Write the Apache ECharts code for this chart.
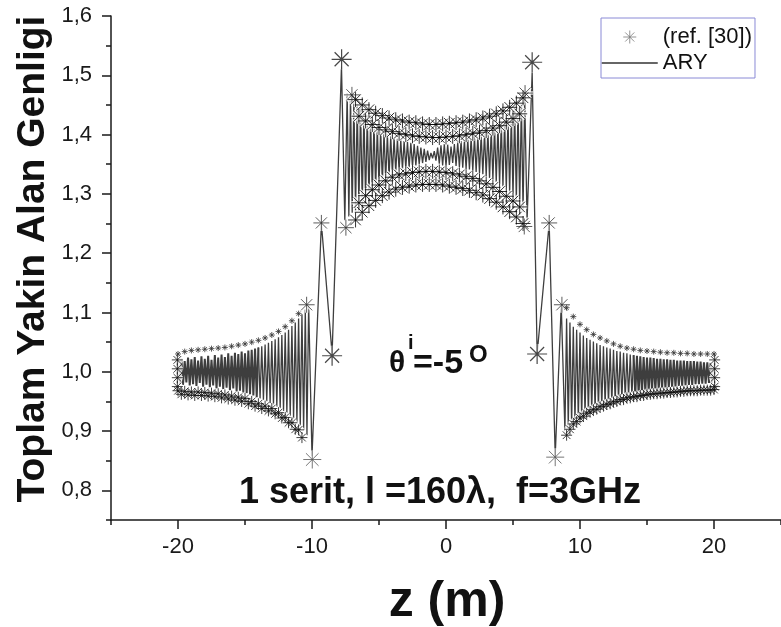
<!DOCTYPE html>
<html>
<head>
<meta charset="utf-8">
<script src="https://cdn.jsdelivr.net/npm/echarts@6/dist/echarts.min.js"></script>
<style>
  html, body { margin: 0; padding: 0; background: #fff; }
  #chart { width: 781px; height: 627px; }
</style>
</head>
<body>
<div id="chart"></div>
<script>
// ---- ARY solution: near-field amplitude along z (m) ----
// sampled runs: start z, step, values
const aryStep = 0.125;
const aryLeftStart = -20;
const aryLeftVals = [
  1.020, 0.980, 1.022, 0.978, 1.018, 0.982, 1.024, 0.977, 1.021, 0.979,
  1.025, 0.976, 1.019, 0.981, 1.026, 0.975, 1.022, 0.978, 1.027, 0.974,
  1.020, 0.977, 1.028, 0.972, 1.024, 0.975, 1.029, 0.971, 1.025, 0.973,
  1.031, 0.969, 1.027, 0.972, 1.032, 0.967, 1.030, 0.968, 1.034, 0.965,
  1.031, 0.964, 1.036, 0.962, 1.037, 0.960, 1.039, 0.957, 1.041, 0.955,
  1.043, 0.953, 1.046, 0.950, 1.049, 0.947, 1.052, 0.944, 1.055, 0.941,
  1.058, 0.938, 1.062, 0.934, 1.066, 0.930, 1.071, 0.926, 1.077, 0.921,
  1.083, 0.915, 1.090, 0.909, 1.097, 0.902, 1.105
];
const aryLeftEdgeZ = [-10.375, -10.25, -10.0, -9.3, -8.5, -7.8, -7.55];
const aryLeftEdgeVals = [0.893, 1.113, 0.858, 1.250, 1.030, 1.515, 1.255];
const aryCenterStart = -7.375;
const aryCenterVals = [
  1.470, 1.262, 1.466, 1.268, 1.460, 1.272, 1.452, 1.279, 1.446, 1.283,
  1.438, 1.289, 1.432, 1.293, 1.425, 1.300, 1.420, 1.306, 1.414, 1.313,
  1.409, 1.318, 1.404, 1.323, 1.401, 1.328, 1.397, 1.333, 1.395, 1.336,
  1.393, 1.339, 1.391, 1.341, 1.389, 1.343, 1.388, 1.344, 1.386, 1.346,
  1.384, 1.348, 1.381, 1.350, 1.378, 1.352, 1.376, 1.354, 1.373, 1.357,
  1.369, 1.360, 1.372, 1.356, 1.378, 1.351, 1.382, 1.348, 1.384, 1.347,
  1.383, 1.349, 1.380, 1.352, 1.384, 1.347, 1.387, 1.345, 1.389, 1.344,
  1.390, 1.342, 1.392, 1.341, 1.394, 1.339, 1.396, 1.337, 1.398, 1.335,
  1.400, 1.333, 1.403, 1.330, 1.406, 1.327, 1.409, 1.324, 1.412, 1.320,
  1.416, 1.316, 1.420, 1.312, 1.424, 1.307, 1.429, 1.301, 1.434, 1.295,
  1.440, 1.288, 1.446, 1.281, 1.453, 1.273, 1.462
];
const aryRightEdgeZ = [6.05, 6.43, 6.8, 7.7, 8.15, 8.6];
const aryRightEdgeVals = [1.255, 1.505, 1.030, 1.250, 0.858, 1.113];
const aryRightStart = 8.875;
const aryRightVals = [
  0.900, 1.090, 0.906, 1.083, 0.910, 1.076, 0.914, 1.071, 0.918, 1.066,
  0.922, 1.061, 0.926, 1.057, 0.929, 1.054, 0.932, 1.051, 0.935, 1.048,
  0.938, 1.045, 0.940, 1.043, 0.943, 1.041, 0.945, 1.039, 0.947, 1.037,
  0.949, 1.035, 0.951, 1.034, 0.953, 1.032, 0.955, 1.031, 0.957, 1.029,
  0.959, 1.028, 0.961, 1.027, 0.963, 1.026, 0.964, 1.025, 0.966, 1.024,
  0.967, 1.024, 0.968, 1.023, 0.969, 1.022, 0.970, 1.022, 0.971, 1.021,
  0.972, 1.021, 0.973, 1.020, 0.974, 1.020, 0.975, 1.019, 0.976, 1.019,
  0.976, 1.019, 0.977, 1.018, 0.978, 1.018, 0.978, 1.018, 0.979, 1.017,
  0.979, 1.017, 0.980, 1.016, 0.980, 1.016, 0.981, 1.015, 0.981, 1.015
];

// ---- ref. [30]: asterisk points ----
const refBandStep = 0.25;
const refCenterStart = -6.75;
const refCenterUpperVals = [
  1.459, 1.431, 1.450, 1.423, 1.442, 1.417, 1.436, 1.412, 1.432, 1.408,
  1.428, 1.405, 1.425, 1.402, 1.423, 1.400, 1.421, 1.398, 1.420, 1.397,
  1.418, 1.396, 1.417, 1.395, 1.417, 1.395, 1.418, 1.396, 1.419, 1.397,
  1.420, 1.398, 1.421, 1.400, 1.423, 1.402, 1.425, 1.404, 1.428, 1.407,
  1.431, 1.411, 1.435, 1.415, 1.440, 1.421, 1.446, 1.427, 1.453, 1.435,
  1.462
];
const refCenterLowerVals = [
  1.256, 1.285, 1.269, 1.297, 1.280, 1.307, 1.289, 1.315, 1.297, 1.322,
  1.303, 1.328, 1.308, 1.332, 1.311, 1.334, 1.313, 1.336, 1.315, 1.337,
  1.316, 1.338, 1.316, 1.338, 1.316, 1.337, 1.315, 1.336, 1.313, 1.334,
  1.311, 1.332, 1.309, 1.329, 1.306, 1.326, 1.302, 1.322, 1.298, 1.317,
  1.292, 1.311, 1.286, 1.304, 1.278, 1.296, 1.270, 1.288, 1.261, 1.278,
  1.250
];
const refLeftStart = -20;
const refLeftUpperStep = 0.5;
const refLeftUpperVals = [
  1.030, 1.034, 1.036, 1.037, 1.038, 1.039, 1.040, 1.041, 1.043, 1.045,
  1.047, 1.050, 1.053, 1.057, 1.062, 1.068, 1.076, 1.086, 1.098
];
const refLeftLowerVals = [
  0.968, 0.962, 0.967, 0.961, 0.966, 0.960, 0.966, 0.960, 0.965, 0.959,
  0.964, 0.958, 0.963, 0.956, 0.961, 0.954, 0.959, 0.952, 0.957, 0.950,
  0.955, 0.946, 0.950, 0.942, 0.946, 0.938, 0.942, 0.934, 0.938, 0.929,
  0.931, 0.922, 0.923, 0.914, 0.914, 0.903, 0.902, 0.889
];
const refRightStart = 9;
const refRightUpperStep = 0.5;
const refRightUpperVals = [
  1.108, 1.093, 1.080, 1.071, 1.063, 1.057, 1.052, 1.047, 1.043, 1.040,
  1.038, 1.036, 1.035, 1.034, 1.033, 1.032, 1.032, 1.031, 1.031, 1.030,
  1.030, 1.030, 1.030
];
const refRightLowerVals = [
  0.893, 0.903, 0.912, 0.916, 0.922, 0.925, 0.930, 0.932, 0.936, 0.937,
  0.941, 0.942, 0.945, 0.946, 0.949, 0.950, 0.953, 0.953, 0.956, 0.956,
  0.958, 0.958, 0.960, 0.960, 0.962, 0.962, 0.963, 0.963, 0.964, 0.964,
  0.965, 0.965, 0.966, 0.966, 0.967, 0.967, 0.968, 0.968, 0.968, 0.968,
  0.969, 0.969, 0.969, 0.969, 0.970
];
const refEndZ = [-20.05, -20.05, -20.05, -20.05, 20.05, 20.05, 20.05, 20.05];
const refEndVals = [0.975, 0.990, 1.005, 1.020, 0.975, 0.990, 1.005, 1.020];
// extrema of the ref. curve, drawn with large asterisks
const refPeakZ = [-7.79, 6.43, -8.5, 6.8];
const refPeakVals = [1.527, 1.522, 1.027, 1.030];
const refTroughZ = [-9.98, 8.15];
const refTroughVals = [0.852, 0.856];
const refKneeZ = [-7.02, -7.47, -9.3, -10.4, 5.84, 5.9, 7.7, 8.65];
const refKneeVals = [1.467, 1.243, 1.251, 1.113, 1.245, 1.470, 1.251, 1.113];

// ---- axis ticks ----
const xMajorTicks = [-20, -10, 0, 10, 20];
const xMinorTicks = [-25, -15, -5, 5, 15, 25];
const yMajorTicks = [0.8, 0.9, 1.0, 1.1, 1.2, 1.3, 1.4, 1.5, 1.6];
const yMinorTicks = [0.75, 0.85, 0.95, 1.05, 1.15, 1.25, 1.35, 1.45, 1.55];

// ---- helpers ----
function run(start, step, vals) {
  return vals.map((v, i) => [+(start + i * step).toFixed(4), v]);
}
function zip(zs, vs) {
  return zs.map((z, i) => [z, vs[i]]);
}

const aryLeft = run(aryLeftStart, aryStep, aryLeftVals);
const aryRight = run(aryRightStart, aryStep, aryRightVals);
// far-field parts (|z| > 14) are drawn with a heavier stroke, where the
// oscillation is too fine to resolve
const aryFarLeft = aryLeft.slice(0, 49);
const aryFarRight = aryRight.slice(41);
const aryNear = [].concat(
  aryLeft.slice(48),
  zip(aryLeftEdgeZ, aryLeftEdgeVals),
  run(aryCenterStart, aryStep, aryCenterVals),
  zip(aryRightEdgeZ, aryRightEdgeVals),
  aryRight.slice(0, 42)
);

const refCenterBand = [].concat(
  run(refCenterStart, refBandStep, refCenterUpperVals),
  run(refCenterStart, refBandStep, refCenterLowerVals)
);
const refOuterBand = [].concat(
  run(refLeftStart, refBandStep, refLeftLowerVals),
  run(refRightStart, refBandStep, refRightLowerVals),
  zip(refEndZ, refEndVals)
);
const refSparse = [].concat(
  run(refLeftStart, refLeftUpperStep, refLeftUpperVals),
  run(refRightStart, refRightUpperStep, refRightUpperVals)
);
const refPeaks = zip(refPeakZ, refPeakVals);
const refTroughs = zip(refTroughZ, refTroughVals);
const refKnees = zip(refKneeZ, refKneeVals);

const FONT = '"Liberation Sans", Arial, Helvetica, sans-serif';
const STAR = 'path://M10 0L10 20M0 10L20 10M3 3L17 17M3 17L17 3';
const AXIS_COLOR = '#1a1a1a';

const chart = echarts.init(document.getElementById('chart'), null, { renderer: 'canvas' });

function haloSeries(data, size) {
  return {
    type: 'scatter', name: 'halo', data: data, symbol: STAR, symbolSize: size,
    itemStyle: { color: 'rgba(0,0,0,0)', borderColor: '#ffffff', borderWidth: 3.5 },
    silent: true, z: 3
  };
}
function starSeries(data, size, color, width) {
  return {
    type: 'scatter', name: '(ref. [30])', data: data, symbol: STAR, symbolSize: size,
    itemStyle: { color: 'rgba(0,0,0,0)', borderColor: color, borderWidth: width },
    silent: true, z: 4
  };
}
function arySeries(data, width) {
  return {
    type: 'line', name: 'ARY', data: data, symbol: 'none', showSymbol: false,
    lineStyle: { color: '#3e3e3e', width: width }, silent: true, z: 2
  };
}

chart.setOption({
  backgroundColor: '#ffffff',
  animation: false,
  grid: { left: 111, top: 16, width: 676, height: 504, containLabel: false },
  legend: {
    orient: 'vertical', left: 601, top: 18,
    padding: [8, 3, 4, 0], itemGap: 4, itemWidth: 56, itemHeight: 13,
    borderColor: '#8a8ad6', borderWidth: 1,
    textStyle: { fontFamily: FONT, fontSize: 22, color: '#111' },
    selectedMode: false,
    data: [
      { name: '(ref. [30])', icon: STAR, itemStyle: { color: 'rgba(0,0,0,0)', borderColor: '#7a7a7a', borderWidth: 1 } },
      { name: 'ARY', itemStyle: { opacity: 0 }, lineStyle: { color: '#333', width: 1.5 } }
    ]
  },
  xAxis: [{
    type: 'value', min: -25, max: 25, position: 'bottom',
    axisLine: { onZero: false, lineStyle: { color: AXIS_COLOR, width: 1.5 } },
    axisTick: { customValues: xMajorTicks, length: 9, lineStyle: { color: AXIS_COLOR, width: 1.5 } },
    axisLabel: { customValues: xMajorTicks, margin: 16, fontFamily: FONT, fontSize: 22, color: '#1a1a1a' },
    splitLine: { show: false }
  }, {
    type: 'value', min: -25, max: 25, position: 'bottom',
    axisLine: { show: false, onZero: false },
    axisTick: { customValues: xMinorTicks, length: 5, lineStyle: { color: AXIS_COLOR, width: 1.5 } },
    axisLabel: { show: false },
    splitLine: { show: false }
  }],
  yAxis: [{
    type: 'value', min: 0.75, max: 1.6, position: 'left',
    axisLine: { show: true, onZero: false, lineStyle: { color: AXIS_COLOR, width: 1.5 } },
    axisTick: { show: true, customValues: yMajorTicks, length: 9, lineStyle: { color: AXIS_COLOR, width: 1.5 } },
    axisLabel: {
      customValues: yMajorTicks, margin: 19, fontFamily: FONT, fontSize: 22, color: '#1a1a1a',
      formatter: v => v.toFixed(1).replace('.', ',')
    },
    splitLine: { show: false }
  }, {
    type: 'value', min: 0.75, max: 1.6, position: 'left',
    axisLine: { show: false, onZero: false },
    axisTick: { show: true, customValues: yMinorTicks, length: 5, lineStyle: { color: AXIS_COLOR, width: 1.5 } },
    axisLabel: { show: false },
    splitLine: { show: false }
  }],
  series: [
    arySeries(aryNear, 1.3),
    arySeries(aryFarLeft, 2),
    arySeries(aryFarRight, 2),
    haloSeries(refCenterBand, 15),
    haloSeries(refOuterBand, 11),
    haloSeries(refKnees, 16),
    haloSeries(refPeaks, 20),
    haloSeries(refTroughs, 18),
    starSeries(refCenterBand, 15, '#000000', 1),
    starSeries(refOuterBand, 11, '#111111', 1),
    starSeries(refSparse, 6, '#333333', 1),
    starSeries(refKnees, 16, '#333333', 1),
    starSeries(refPeaks, 20, '#1a1a1a', 1.2),
    starSeries(refTroughs, 18, '#555555', 1)
  ],
  graphic: [
    {
      type: 'text', x: 33, y: 259, rotation: Math.PI / 2,
      style: { text: 'Toplam Yakin Alan Genligi', fontFamily: FONT, fontWeight: 'bold', fontSize: 39,
               fill: '#111', align: 'center', verticalAlign: 'middle' }
    },
    {
      type: 'text', x: 447, y: 602,
      style: { text: 'z (m)', fontFamily: FONT, fontWeight: 'bold', fontSize: 50,
               fill: '#111', align: 'center', verticalAlign: 'middle' }
    },
    {
      type: 'text', x: 440, y: 493,
      style: { text: '1 serit, l =160\u03bb,  f=3GHz', fontFamily: FONT, fontWeight: 'bold', fontSize: 36,
               fill: '#111', align: 'center', verticalAlign: 'middle' }
    },
    {
      type: 'text', x: 389, y: 364,
      style: { text: '\u03b8', fontFamily: FONT, fontWeight: 'bold', fontSize: 30,
               fill: '#111', align: 'left', verticalAlign: 'middle' }
    },
    {
      type: 'text', x: 408, y: 343,
      style: { text: 'i', fontFamily: FONT, fontWeight: 'bold', fontSize: 20,
               fill: '#111', align: 'left', verticalAlign: 'middle' }
    },
    {
      type: 'text', x: 413, y: 364,
      style: { text: '=-5', fontFamily: FONT, fontWeight: 'bold', fontSize: 34,
               fill: '#111', align: 'left', verticalAlign: 'middle' }
    },
    {
      type: 'text', x: 469, y: 355,
      style: { text: 'O', fontFamily: FONT, fontWeight: 'bold', fontSize: 24,
               fill: '#111', align: 'left', verticalAlign: 'middle' }
    }
  ]
});
</script>
</body>
</html>
